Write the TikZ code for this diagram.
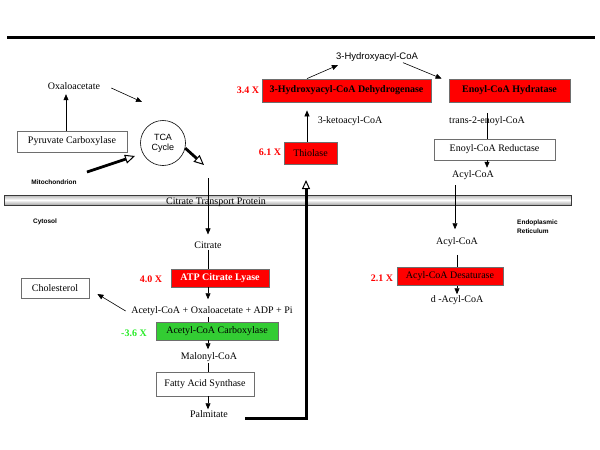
\documentclass[tikz,border=0pt]{standalone}
\usepackage{fontspec}
\setmainfont{Liberation Serif}
\setsansfont{Liberation Sans}
\usetikzlibrary{arrows.meta,calc}
\definecolor{boxred}{RGB}{255,0,0}
\definecolor{boxgreen}{RGB}{51,204,51}
\definecolor{lblgreen}{RGB}{40,235,40}
\definecolor{bordergray}{RGB}{110,110,110}
\begin{document}
\begin{tikzpicture}[x=1pt,y=-1pt,
 txt/.style={font=\fontsize{10}{12}\selectfont, inner sep=1pt},
 sans/.style={font=\sffamily\fontsize{9.5}{11}\selectfont, inner sep=1pt},
 region/.style={font=\sffamily\bfseries\fontsize{6.5}{8.5}\selectfont, inner sep=0pt, align=left},
 box/.style={draw=bordergray, line width=0.8pt, fill=white, font=\fontsize{10}{12}\selectfont, inner sep=0pt},
 redbox/.style={box, fill=boxred},
 greenbox/.style={box, fill=boxgreen},
 boldtxt/.style={font=\bfseries\fontsize{10}{12}\selectfont},
 fold/.style={font=\bfseries\fontsize{10}{12}\selectfont, text=boxred, inner sep=0pt},
 arr/.style={line width=0.6pt, -{Triangle[length=6pt,width=5pt]}},
 link/.style={line width=0.6pt},
 bigarr/.style={line width=2.8pt, -{Triangle[open,length=10pt,width=9pt,line width=1pt]}}
]
\useasboundingbox (0,0) rectangle (600,450);
% top rule
\coordinate (tl) at (7,37);
\coordinate (tr) at (595,37);
\draw[line width=3pt] (tl) -- (tr);
% membrane
\node[draw=gray!45!black, line width=0.6pt, top color=gray!60, bottom color=gray!70, middle color=white,
      minimum width=567pt, minimum height=10pt, inner sep=0pt] (mem) at (287.5,200) {};
\node[txt] (ctp) at (216,202) {Citrate Transport Protein};
% region labels
\node[region] (mito) at (54,182) {Mitochondrion};
\node[region] (cyto) at (45,222) {Cytosol};
\node[region, anchor=west] (er) at (517,226.5) {Endoplasmic\\Reticulum};
% mitochondrion
\node[txt] (oxa) at (74,86) {Oxaloacetate};
\node[box, minimum width=110pt, minimum height=21pt] (pc) at (72,141.5) {Pyruvate Carboxylase};
\node[draw, circle, line width=0.6pt, minimum size=45pt, inner sep=0pt, align=center,
      font=\sffamily\fontsize{9}{10}\selectfont] (tca) at (163,143) {TCA\\Cycle};
\draw[arr] ([xshift=-6pt]pc.north) -- ([xshift=-8pt,yshift=-3.5pt]oxa.south);
\coordinate (t1) at (142,102);
\draw[arr] ([xshift=10pt,yshift=-2pt]oxa.east) -- (t1);
\coordinate (m1) at (87,172);
\coordinate (m2) at (135,156);
\draw[bigarr] (m1) -- (m2);
\coordinate (m3) at (204,165);
\draw[bigarr] (tca.-13) -- (m3);
% beta oxidation (reverse)
\node[sans] (h3) at (377,57) {3-Hydroxyacyl-CoA};
\node[redbox, boldtxt, minimum width=169pt, minimum height=23pt] (hdh) at (346.5,90.5) {3-Hydroxyacyl-CoA Dehydrogenase};
\node[redbox, boldtxt, minimum width=121pt, minimum height=23pt] (ech) at (509.5,90.5) {Enoyl-CoA Hydratase};
\node[fold] (f34) at (248,90) {3.4 X};
\node[txt] (keto) at (350,121) {3-ketoacyl-CoA};
\node[redbox, minimum width=53pt, minimum height=22pt] (thi) at (310.5,153) {Thiolase};
\node[fold] (f61) at (270,152) {6.1 X};
\node[txt] (trans) at (487,121) {trans-2-enoyl-CoA};
\node[box, minimum width=121pt, minimum height=21pt] (ecr) at (494.5,149.5) {Enoyl-CoA Reductase};
\node[txt] (acyl1) at (473,175) {Acyl-CoA};
\draw[arr] ([xshift=-39.5pt]hdh.north) -- ([xshift=3pt,yshift=-2.5pt]h3.south west);
\draw[arr] ([xshift=26pt]h3.south) -- ([xshift=-7pt]ech.north west);
\draw[arr] ([xshift=-3.5pt]thi.north) -- ([xshift=-39.5pt,yshift=-8pt]hdh.south);
\draw[link] ([xshift=-22.5pt,yshift=-11pt]ech.south) -- ([xshift=-7.5pt]ecr.north);
\draw[arr] ([xshift=-7.5pt]ecr.south) -- ([xshift=14pt,yshift=1.5pt]acyl1.north);
% ER
\node[txt] (acyl2) at (457,242) {Acyl-CoA};
\node[txt] (dacyl) at (457,300) {d -Acyl-CoA};
\draw[arr] ([xshift=-18pt,yshift=-4.5pt]acyl1.south) -- ([xshift=-2pt,yshift=7pt]acyl2.north);
\draw[arr] ([yshift=-7pt]acyl2.south) -- (dacyl.north);
\node[redbox, minimum width=106pt, minimum height=18pt] (acd) at (450,276) {Acyl-CoA Desaturase};
\node[fold] (f21) at (382,278) {2.1 X};
% cytosol
\node[txt] (cit) at (208,245) {Citrate};
\node[redbox, boldtxt, text=white, minimum width=98pt, minimum height=18pt] (acl) at (220,278) {ATP Citrate Lyase};
\node[fold] (f40) at (151,279) {4.0 X};
\node[txt] (acoa) at (212,311) {Acetyl-CoA + Oxaloacetate + ADP + Pi};
\node[box, minimum width=68pt, minimum height=20pt] (chol) at (55,288) {Cholesterol};
\node[greenbox, minimum width=122pt, minimum height=18pt] (acc) at (217,331) {Acetyl-CoA Carboxylase};
\node[fold, text=lblgreen] (f36) at (134,333) {-3.6 X};
\node[txt] (mal) at (209,357) {Malonyl-CoA};
\node[box, minimum width=98pt, minimum height=24pt] (fas) at (205,384) {Fatty Acid Synthase};
\node[txt] (pal) at (209,414) {Palmitate};
\coordinate (col) at (208,0);
\coordinate (citsrc) at (208,178);
\draw[arr] (citsrc) -- ($(cit.north)+(0,-6)$);
\draw[link] (cit.south) -- (cit.south |- acl.north);
\draw[arr] (acl.south -| col) -- ($(acoa.north -| col)+(0,-6)$);
\draw[link] (acoa.south -| col) -- (acc.north -| col);
\draw[arr] (acc.south -| col) -- ($(mal.north -| col)+(0,-2)$);
\draw[link] (mal.south -| col) -- (fas.north -| col);
\draw[arr] (fas.south -| col) -- (pal.north -| col);
\draw[arr] ([xshift=-4.5pt]acoa.west) -- ([xshift=8pt,yshift=-6pt]chol.east);
\coordinate (up) at (306,180);
\draw[line width=3pt, -{Triangle[open,length=9pt,width=8pt,line width=1pt]}] ([xshift=16pt,yshift=-4pt]pal.east) -| (up);
\end{tikzpicture}
\end{document}
